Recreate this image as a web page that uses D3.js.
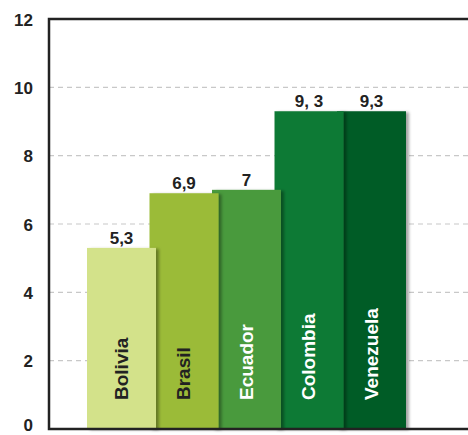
<!DOCTYPE html>
<html><head><meta charset="utf-8">
<script src="https://cdn.jsdelivr.net/npm/d3@7"></script>
<style>body{margin:0;background:#fff}svg{display:block}</style>
</head><body>
<script>
const categories = ["Bolivia","Brasil","Ecuador","Colombia","Venezuela"];
const values = [5.3, 6.9, 7, 9.3, 9.3];
const valueLabels = ["5,3","6,9","7","9, 3","9,3"];
const colors = ["#d3e28a","#9bbb37","#4a9a3c","#0e7a36","#005c28"];
const labelColors = ["#222","#222","#fff","#fff","#fff"];
const yTicks = [0,2,4,6,8,10,12];

const W = 468, H = 435;
const svg = d3.select("body").append("svg").attr("width",W).attr("height",H);
const defs = svg.append("defs");
const f = defs.append("filter").attr("id","sh").attr("x","-20%").attr("y","-20%").attr("width","150%").attr("height","140%");
f.append("feDropShadow").attr("dx",3).attr("dy",1).attr("stdDeviation",1.8).attr("flood-color","#000").attr("flood-opacity",0.35);

const y = d3.scaleLinear().domain([0,12]).range([429,19]);
const x = d3.scalePoint().domain(categories).range([121.5,371.5]);
const bw = 69;
const left = 49;
const font = "'Liberation Sans', Arial, sans-serif";

// grid
svg.append("g").selectAll("line").data(yTicks.filter(d=>d>0&&d<12)).join("line")
  .attr("x1",left).attr("x2",W).attr("y1",d=>y(d)).attr("y2",d=>y(d))
  .attr("stroke","#c8c8c8").attr("stroke-width",1.2).attr("stroke-dasharray","5,4");

// y axis labels
const yAxis = d3.axisLeft(y).tickValues(yTicks).tickSize(0).tickPadding(0).tickFormat(d3.format("d"));
const ga = svg.append("g").attr("transform",`translate(33,0)`).call(yAxis);
ga.select(".domain").remove();
ga.selectAll("text").attr("font-family",font).attr("font-weight","bold").attr("font-size",17).attr("fill","#222")
  .attr("dy",d=>d===0?"0.08em":"0.36em");

// bars (draw right to left so left bars overlap)
const idx = d3.range(categories.length).reverse();
const bars = svg.append("g");
bars.selectAll("rect").data(idx).join("rect")
  .attr("x",i=>x(categories[i])-bw/2).attr("width",bw)
  .attr("y",i=>y(values[i])).attr("height",i=>y(0)-y(values[i]))
  .attr("fill",i=>colors[i]).attr("filter","url(#sh)");

// value labels
svg.append("g").selectAll("text").data(d3.range(categories.length)).join("text")
  .attr("x",i=>x(categories[i])).attr("y",i=>y(values[i])-4)
  .attr("text-anchor","middle").attr("font-family",font).attr("font-weight","bold").attr("font-size",17).attr("fill","#222")
  .text(i=>valueLabels[i]);

// category labels
svg.append("g").selectAll("text").data(d3.range(categories.length)).join("text")
  .attr("transform",i=>`translate(${x(categories[i])+6},400) rotate(-90)`)
  .attr("text-anchor","start").attr("font-family",font).attr("font-weight","bold").attr("font-size",19).attr("fill",i=>labelColors[i])
  .text(i=>categories[i]);

// frame
svg.append("path").attr("d",`M${W},${y(12)}H${left}V${y(0)}H${W}`)
  .attr("fill","none").attr("stroke","#222").attr("stroke-width",2.5);
</script>
</body></html>
